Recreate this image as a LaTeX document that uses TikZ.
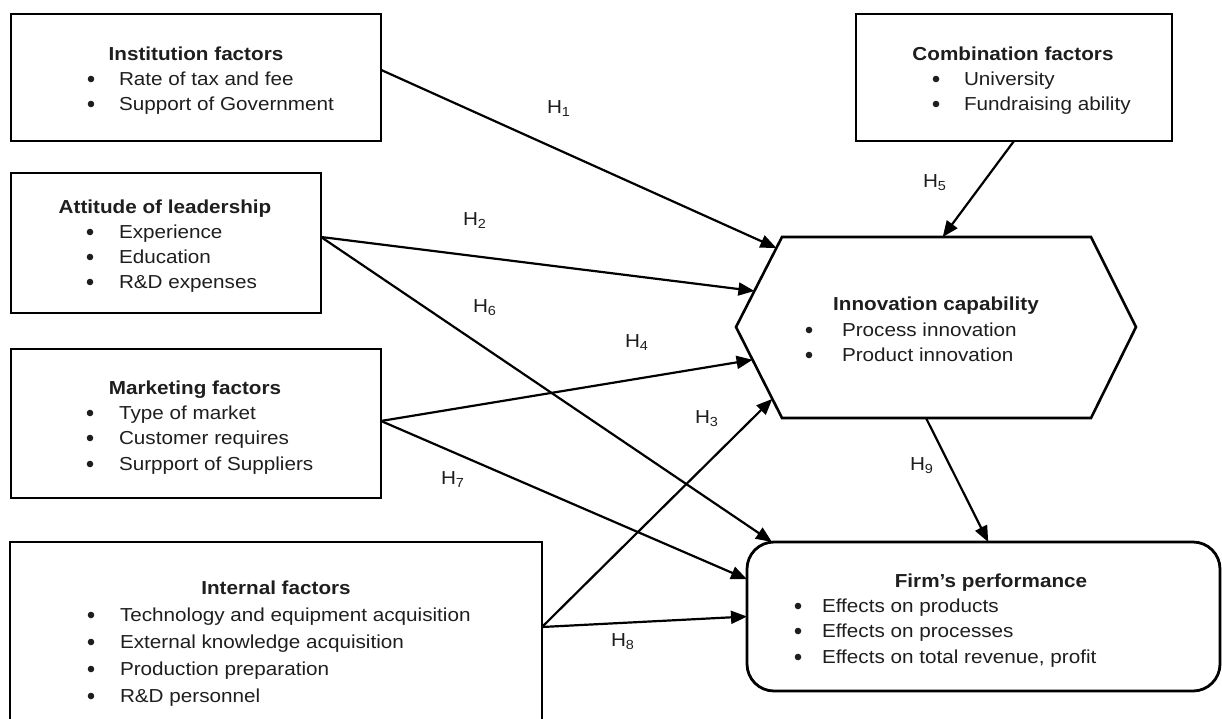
\documentclass[tikz,border=0pt]{standalone}
\usepackage{fontspec}
\setmainfont{Liberation Sans}[FakeStretch=1.1]
\usetikzlibrary{arrows.meta,calc}
\definecolor{txtc}{HTML}{1E1E1E}
\newcommand\itm[5]{%
  \node[bul] (#1b) at (#2,#4-6) {};
  \node[tx,anchor=base west] (#1) at (#3,#4) {#5};}
\begin{document}
\begin{tikzpicture}[x=1pt,y=-1pt,
  tx/.style={text=txtc,inner sep=0pt,outer sep=0pt,font=\fontsize{18.8}{22}\selectfont},
  bul/.style={circle,fill=txtc,inner sep=0pt,minimum size=6.6pt},
  ttl/.style={tx,anchor=base,font=\fontsize{18.8}{22}\selectfont\bfseries},
  hl/.style={tx,anchor=base west},
  box/.style={draw,line width=2.8pt,inner sep=0pt,outer sep=0pt},
  arr/.style={line width=2.2pt,-{Triangle[length=16pt,width=13pt]}}]
\useasboundingbox (0,0) rectangle (1222,718);

% boxes
\node[box,minimum width=370pt,minimum height=127pt] (inst) at (196,77.5) {};
\node[box,minimum width=316pt,minimum height=127pt] (comb) at (1014,77.5) {};
\node[box,minimum width=310pt,minimum height=140pt] (att) at (166,243) {};
\node[box,minimum width=370pt,minimum height=149pt] (mkt) at (196,423.5) {};
\node[box,minimum width=532pt,minimum height=193pt] (intl) at (276,638.5) {};
\node[box,rounded corners=27pt,minimum width=473pt,minimum height=149pt] (firm) at (983.5,616.5) {};

% hexagon
\coordinate (hxW) at (736,327);
\coordinate (hxTL) at (782,237);
\coordinate (hxTR) at (1091,237);
\coordinate (hxE) at (1136,327);
\coordinate (hxBR) at (1091,418);
\coordinate (hxBL) at (782,418);
\draw[line width=2.6pt,line join=miter] (hxW) -- (hxTL) -- (hxTR) -- (hxE) -- (hxBR) -- (hxBL) -- cycle;

% texts
\node[ttl] (instT) at (196,60) {Institution factors};
\itm{inst1}{91}{119}{85}{Rate of tax and fee}
\itm{inst2}{91}{119}{110}{Support of Government}

\node[ttl] (combT) at (1013,60) {Combination factors};
\itm{comb1}{936}{964}{85}{University}
\itm{comb2}{936}{964}{110}{Fundraising ability}

\node[ttl] (attT) at (165,213) {Attitude of leadership};
\itm{att1}{90}{119}{238}{Experience}
\itm{att2}{90}{119}{263}{Education}
\itm{att3}{90}{119}{288}{R\&D expenses}

\node[ttl] (mktT) at (195,394) {Marketing factors};
\itm{mkt1}{90}{119}{419}{Type of market}
\itm{mkt2}{90}{119}{444}{Customer requires}
\itm{mkt3}{90}{119}{470}{Surpport of Suppliers}

\node[ttl] (intlT) at (276,594) {Internal factors};
\itm{intl1}{91}{120}{621}{Technology and equipment acquisition}
\itm{intl2}{91}{120}{648}{External knowledge acquisition}
\itm{intl3}{91}{120}{675}{Production preparation}
\itm{intl4}{91}{120}{702}{R\&D personnel}

\node[ttl] (innT) at (936,310) {Innovation capability};
\itm{inn1}{809}{842}{336}{Process innovation}
\itm{inn2}{809}{842}{361}{Product innovation}

\node[ttl] (firmT) at (991,587) {Firm’s performance};
\itm{firm1}{798}{822}{612}{Effects on products}
\itm{firm2}{798}{822}{637}{Effects on processes}
\itm{firm3}{798}{822}{663}{Effects on total revenue, profit}

% connectors
\draw[arr] ($(inst.north east)!0.44!(inst.south east)$) -- ($(hxW)!0.878!(hxTL)$);
\draw[arr] ($(att.north east)!0.457!(att.south east)$) -- ($(hxW)!0.40!(hxTL)$);
\draw[arr] ($(att.north east)!0.457!(att.south east)$) -- ($(firm.north west)+(25,0)$);
\draw[arr] ($(mkt.north east)!0.483!(mkt.south east)$) -- ($(hxW)!0.36!(hxBL)$);
\draw[arr] ($(mkt.north east)!0.483!(mkt.south east)$) -- ($(firm.north west)!0.25!(firm.south west)$);
\draw[arr] ($(intl.north east)+(0,85)$) -- ($(hxW)!0.79!(hxBL)$);
\draw[arr] ($(intl.north east)+(0,85)$) -- (firm.west);
\draw[arr] (comb.south) -- ($(hxTL)!0.52!(hxTR)$);
\draw[arr] ($(hxBL)!0.466!(hxBR)$) -- ($(firm.north west)!0.51!(firm.north east)$);

% labels
\node[hl] (h1) at (547,113) {H\textsubscript{1}};
\node[hl] (h2) at (463,225) {H\textsubscript{2}};
\node[hl] (h6) at (473,312) {H\textsubscript{6}};
\node[hl] (h4) at (625,347) {H\textsubscript{4}};
\node[hl] (h3) at (695,423) {H\textsubscript{3}};
\node[hl] (h7) at (441,484) {H\textsubscript{7}};
\node[hl] (h8) at (611,646) {H\textsubscript{8}};
\node[hl] (h5) at (923,187) {H\textsubscript{5}};
\node[hl] (h9) at (910,470) {H\textsubscript{9}};
\end{tikzpicture}
\end{document}
